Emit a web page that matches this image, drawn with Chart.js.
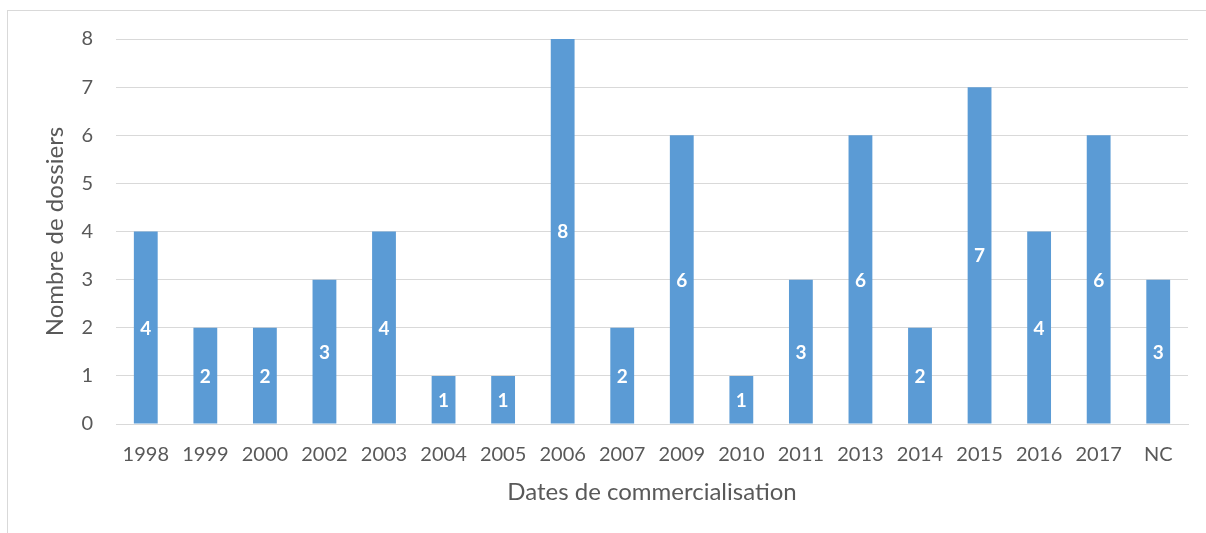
<!DOCTYPE html>
<html>
<head>
<meta charset="utf-8">
<script src="https://cdn.jsdelivr.net/npm/chart.js@4"></script>
<style>
  * { margin: 0; padding: 0; box-sizing: border-box; }
  html, body { width: 1206px; height: 533px; background: #fff; overflow: hidden; }
  .frame {
    position: absolute; left: 7px; top: 10px; width: 1210px; height: 540px;
    border-left: 1px solid #d9d9d9; border-top: 1px solid #d9d9d9;
  }
  .wrap { position: absolute; left: 0; top: 0; width: 1206px; height: 533px; }
</style>
</head>
<body>
<div class="frame"></div>
<div class="wrap"><canvas id="chart" width="1206" height="533"></canvas></div>
<script>
const years = ["1998", "1999", "2000", "2002", "2003", "2004", "2005", "2006", "2007",
  "2009", "2010", "2011", "2013", "2014", "2015", "2016", "2017", "NC"];
const dossiers = [4, 2, 2, 3, 4, 1, 1, 8, 2, 6, 1, 3, 6, 2, 7, 4, 6, 3];
const yTicks = [0, 1, 2, 3, 4, 5, 6, 7, 8];

const FONT = "Lato, 'Open Sans', sans-serif";
const TEXT = "#595959";
const GRID = "#d9d9d9";

// white value label in the middle of each bar
const barLabels = {
  id: "barLabels",
  afterDatasetsDraw(chart) {
    const ctx = chart.ctx;
    const meta = chart.getDatasetMeta(0);
    ctx.save();
    ctx.fillStyle = "#ffffff";
    ctx.font = "bold 19px " + FONT;
    ctx.textAlign = "center";
    ctx.textBaseline = "middle";
    meta.data.forEach((bar, i) => {
      ctx.fillText(String(dossiers[i]), bar.x, (bar.y + bar.base) / 2 + 1);
    });
    ctx.restore();
  }
};

new Chart(document.getElementById("chart"), {
  type: "bar",
  data: {
    labels: years,
    datasets: [{
      data: dossiers,
      backgroundColor: "#5b9bd5",
      barPercentage: 0.4,
      categoryPercentage: 1.0
    }]
  },
  options: {
    responsive: false,
    animation: false,
    layout: { padding: { left: 0, right: 18, top: 39, bottom: 0 } },
    plugins: { legend: { display: false }, tooltip: { enabled: false } },
    scales: {
      x: {
        afterFit(scale) { scale.height = 109; },
        grid: { display: false },
        border: { color: GRID, width: 1 },
        ticks: { color: TEXT, font: { family: FONT, size: 20 }, padding: 11, maxRotation: 0 },
        title: {
          display: true, text: "Dates de commercialisation", color: TEXT,
          font: { family: FONT, size: 24 }, padding: { top: 0, bottom: 26 }
        }
      },
      y: {
        min: 0, max: 8,
        afterFit(scale) { scale.width = 116; },
        afterBuildTicks(scale) { scale.ticks = yTicks.map(v => ({ value: v })); },
        grid: { color: GRID, lineWidth: 1, drawTicks: false },
        border: { display: false },
        ticks: { color: TEXT, font: { family: FONT, size: 20 }, padding: 23 },
        title: {
          display: true, text: "Nombre de dossiers", color: TEXT,
          font: { family: FONT, size: 24 }, padding: { top: 41, bottom: 0 }
        }
      }
    }
  },
  plugins: [barLabels]
});
</script>
</body>
</html>
